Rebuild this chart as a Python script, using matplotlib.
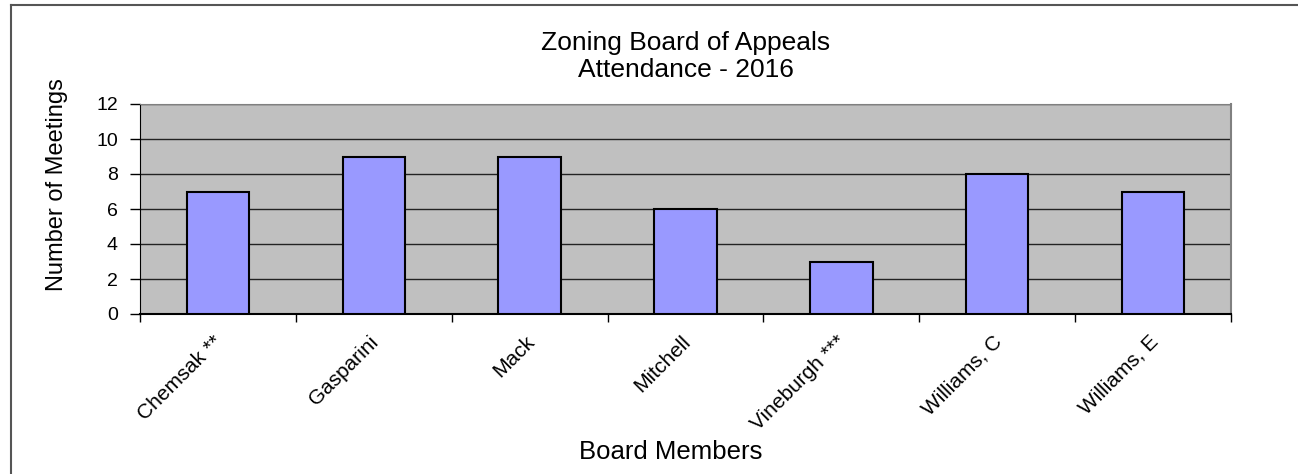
import matplotlib
matplotlib.use('Agg')
import matplotlib.pyplot as plt
import matplotlib.transforms as mtransforms
from matplotlib.lines import Line2D
import numpy as np

members = ['Chemsak **', 'Gasparini', 'Mack', 'Mitchell', 'Vineburgh ***', 'Williams, C', 'Williams, E']
meetings = [7, 9, 9, 6, 3, 8, 7]
yticks = [0, 2, 4, 6, 8, 10, 12]
title_lines = ['Zoning Board of Appeals', 'Attendance - 2016']

plt.rcParams['font.family'] = ['Liberation Sans', 'DejaVu Sans']

W, H = 1298, 474
fig = plt.figure(figsize=(W / 100, H / 100), dpi=100)
ax = fig.add_axes([140 / W, 1 - 314 / H, (1231 - 140) / W, (314 - 104) / H])

x = np.arange(len(members))
ax.set_facecolor('#c0c0c0')
ax.bar(x, meetings, width=0.4, color='#9999ff', edgecolor='black', linewidth=1.5, zorder=3)

ax.set_xlim(-0.5, len(members) - 0.5)
ax.set_ylim(0, 12)
ax.set_yticks(yticks)
ax.tick_params(axis='y', labelsize=14, length=7, width=1, direction='out', color='black', pad=9)
ax.yaxis.grid(True, color='#222222', linewidth=1, zorder=1)

# category labels at centres, tick marks between categories
ax.set_xticks(x)
ax.set_xticklabels(members, rotation=45, ha='right', rotation_mode='anchor', fontsize=15)
ax.tick_params(axis='x', which='major', length=0, pad=13)
shift = mtransforms.ScaledTranslation(-5 / 100, 0, fig.dpi_scale_trans)
for lbl in ax.get_xticklabels():
    lbl.set_transform(lbl.get_transform() + shift)
ax.set_xticks(np.arange(-0.5, len(members)), minor=True)
ax.tick_params(axis='x', which='minor', length=6, width=1, color='black')

ax.spines['left'].set_color('black')
ax.spines['bottom'].set_color('black')
ax.spines['bottom'].set_linewidth(1.5)
ax.spines['top'].set_color('#808080')
ax.spines['right'].set_color('#808080')
ax.spines['right'].set_linewidth(1.5)

fig.text(57 / W, 1 - 185 / H, 'Number of Meetings', rotation=90,
         ha='center', va='center', fontsize=17)
fig.text(671 / W, 1 - 452 / H, 'Board Members', ha='center', va='center', fontsize=18.5)
fig.text(686 / W, 1 - 43 / H, title_lines[0], ha='center', va='center', fontsize=19)
fig.text(686 / W, 1 - 70 / H, title_lines[1], ha='center', va='center', fontsize=19)

# outer chart border (runs off the right and bottom edges)
fig.add_artist(Line2D([11 / W, 11 / W], [0, 1 - 5 / H], color='#555555', linewidth=1.5))
fig.add_artist(Line2D([11 / W, 1], [1 - 5 / H, 1 - 5 / H], color='#555555', linewidth=1.5))

fig.savefig('out.png', dpi=100)
